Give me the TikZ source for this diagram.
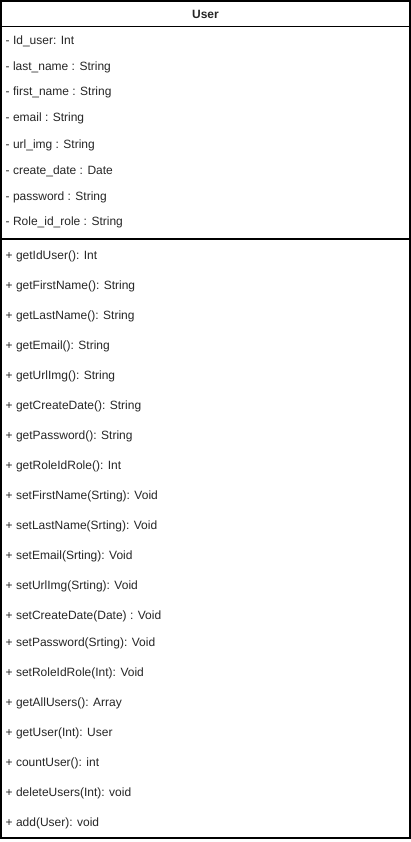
\documentclass[tikz,border=0pt]{standalone}
\usepackage{fontspec}
\setmainfont{Liberation Sans}
\begin{document}
\begin{tikzpicture}[x=1pt,y=-1pt,
  boxline/.style={draw=black,line width=1.2pt},
  member/.style={anchor=base west,inner sep=0pt,font=\fontsize{12}{14}\selectfont,text=black!85},
  title/.style={anchor=base,inner sep=0pt,font=\fontsize{12}{14}\selectfont\bfseries,text=black!85}]
\useasboundingbox (0,0) rectangle (411,842);
\fill[white] (0,0) rectangle (411,842);
\draw[boxline] (1,1) rectangle (410,838);
\draw[boxline] (1,26.5) -- (410,26.5);
\draw[boxline] (1,239) -- (410,239);
\node[title] (t) at (205.5,18.3) {User};
\foreach \n/\y/\s in {
a1/40/{- Id\_user: Int},
a2/66/{- last\_name : String},
a3/91.5/{- first\_name : String},
a4/117.5/{- email : String},
a5/144/{- url\_img : String},
a6/170/{- create\_date : Date},
a7/196/{- password : String},
a8/221.5/{- Role\_id\_role : String},
m1/255.5/{+ getIdUser(): Int},
m2/285.5/{+ getFirstName(): String},
m3/315.5/{+ getLastName(): String},
m4/345.5/{+ getEmail(): String},
m5/375.5/{+ getUrlImg(): String},
m6/405.5/{+ getCreateDate(): String},
m7/435.5/{+ getPassword(): String},
m8/465.5/{+ getRoleIdRole(): Int},
m9/495.5/{+ setFirstName(Srting): Void},
m10/525.5/{+ setLastName(Srting): Void},
m11/555.5/{+ setEmail(Srting): Void},
m12/585.5/{+ setUrlImg(Srting): Void},
m13/615.5/{+ setCreateDate(Date) : Void},
m14/642.5/{+ setPassword(Srting): Void},
m15/672/{+ setRoleIdRole(Int): Void},
m16/702/{+ getAllUsers(): Array},
m17/732/{+ getUser(Int): User},
m18/762/{+ countUser(): int},
m19/792/{+ deleteUsers(Int): void},
m20/822.5/{+ add(User): void}}
{\node[member] (\n) at (5.5,\y+4.3) {\s};}
\end{tikzpicture}
\end{document}
